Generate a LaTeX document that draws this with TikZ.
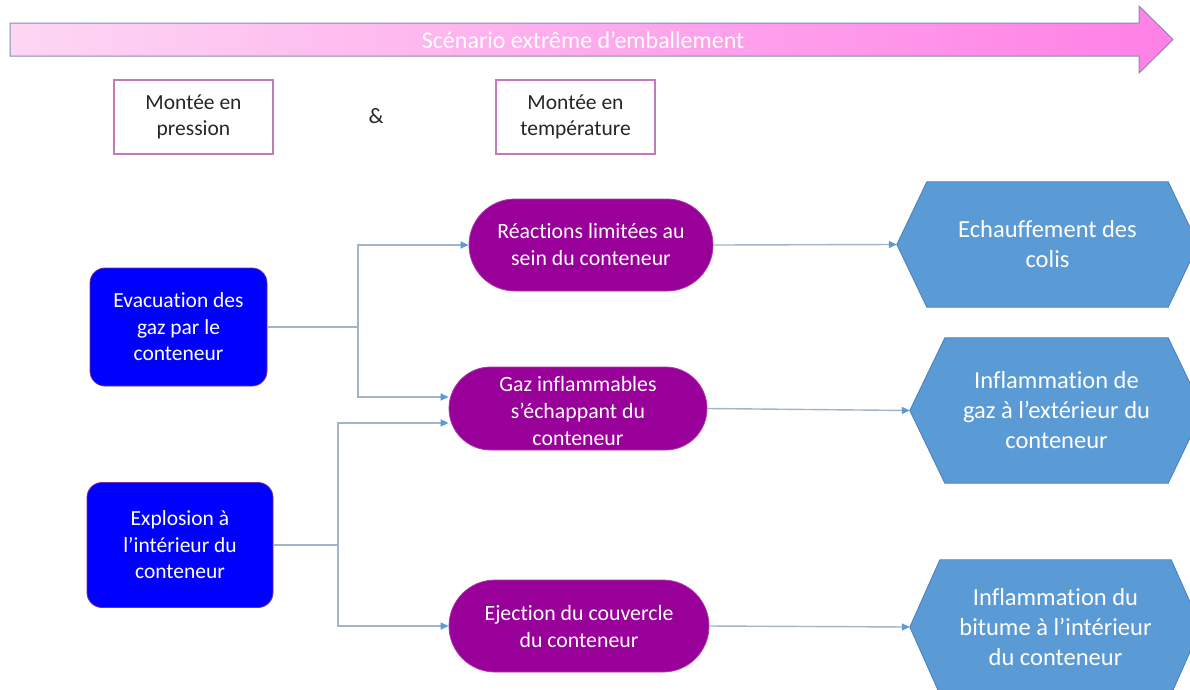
\documentclass[tikz,border=0pt]{standalone}
\usepackage{fontspec}
\setmainfont{Carlito}[Ligatures=NoCommon]
\usetikzlibrary{arrows.meta,shapes.misc,backgrounds,calc}
\definecolor{pinkL}{RGB}{253,214,243}
\definecolor{pinkR}{RGB}{255,128,230}
\definecolor{arrowedge}{RGB}{128,144,176}
\definecolor{boxpink}{RGB}{192,124,182}
\definecolor{textgray}{RGB}{38,38,38}
\definecolor{bluebox}{RGB}{0,0,255}
\definecolor{blueedge}{RGB}{112,48,160}
\definecolor{pillfill}{RGB}{153,0,153}
\definecolor{pilledge}{RGB}{170,60,170}
\definecolor{hexfillc}{RGB}{91,155,213}
\definecolor{hexedge}{RGB}{74,126,187}
\definecolor{connc}{RGB}{160,180,204}
\definecolor{tipc}{RGB}{91,155,213}
\newcommand\fsz[2]{\fontsize{#1}{#2}\selectfont}
\begin{document}
\begin{tikzpicture}[x=1pt,y=-1pt,
  topbox/.style={draw=boxpink, line width=1.3pt, minimum width=159pt, minimum height=74pt,
     align=center, text=textgray, font=\fsz{21.5}{26.5}, inner sep=0pt},
  bluenode/.style={fill=bluebox, draw=blueedge, line width=0.8pt, rounded corners=15pt,
     align=center, text=white, font=\fsz{21.5}{26.5}, inner sep=0pt},
  pillnode/.style={rounded rectangle, fill=pillfill, draw=pilledge, line width=0.8pt,
     align=center, text=white, font=\fsz{21.8}{27}, inner sep=0pt},
  hexnode/.style={align=center, text=white, font=\fsz{24.5}{30}, inner sep=0pt},
  hexfill/.style={fill=hexfillc, draw=hexedge, line width=0.8pt},
  conn/.style={draw=connc, line width=1.4pt},
  connarrow/.style={conn, -{Triangle[length=8pt,width=7pt,color=tipc]}}
]
\useasboundingbox (0,0) rectangle (1190,689);

% big arrow
\draw[left color=pinkL, right color=pinkR, draw=arrowedge, line width=1pt]
  (10,23) -- (1139,23) -- (1139,6) -- (1173,39.5) -- (1139,73) -- (1139,56) -- (10,56) -- cycle;
\node[text=white, font=\fsz{24}{28}] (title) at (583,40) {Scénario extrême d’emballement};

% top boxes
\node[topbox] (mp) at (193.5,117) {Montée en\\pression};
\node[text=textgray, font=\fsz{22}{26}] (amp) at (376,116) {\&};
\node[topbox] (mt) at (575.5,117) {Montée en\\température};

% blue boxes
\node[bluenode, minimum width=177pt, minimum height=118pt] (e1) at (178.5,327) {Evacuation des\\gaz par le\\conteneur};
\node[bluenode, minimum width=186pt, minimum height=125pt] (e2) at (180,545) {Explosion à\\l’intérieur du\\conteneur};

% pills
\node[pillnode, minimum width=244pt, minimum height=92pt] (p1) at (591,245) {Réactions limitées au\\sein du conteneur};
\node[pillnode, minimum width=258pt, minimum height=83pt] (p2) at (578,408.5) {\rule{0pt}{21pt}Gaz inflammables\\s’échappant du\\conteneur};
\node[pillnode, minimum width=260pt, minimum height=92pt] (p3) at (579,626) {Ejection du couvercle\\du conteneur};

% hexagons
\node[hexnode, minimum width=301pt, minimum height=125pt] (h1) at (1047.5,244.5) {Echauffement des\\colis};
\node[hexnode, minimum width=293pt, minimum height=145pt] (h2) at (1056.5,410.5) {Inflammation de\\gaz à l’extérieur du\\conteneur};
\node[hexnode, minimum width=291pt, minimum height=134pt] (h3) at (1055.5,627) {Inflammation du\\bitume à l’intérieur\\du conteneur};
\begin{pgfonlayer}{background}
\path[hexfill] (h1.west) -- ([xshift=30pt]h1.north west) -- ([xshift=-30pt]h1.north east) -- (h1.east)
  -- ([xshift=-30pt]h1.south east) -- ([xshift=30pt]h1.south west) -- cycle;
\path[hexfill] (h2.west) -- ([xshift=35pt]h2.north west) -- ([xshift=-35pt]h2.north east) -- (h2.east)
  -- ([xshift=-35pt]h2.south east) -- ([xshift=35pt]h2.south west) -- cycle;
\path[hexfill] (h3.west) -- ([xshift=30pt]h3.north west) -- ([xshift=-30pt]h3.north east) -- (h3.east)
  -- ([xshift=-30pt]h3.south east) -- ([xshift=30pt]h3.south west) -- cycle;
\end{pgfonlayer}

% connectors
\coordinate (j1) at (358,327);
\coordinate (j2) at (338,545);
\draw[conn] (e1.east) -- (j1);
\draw[connarrow] (j1) |- (p1.west);
\draw[connarrow] (j1) |- ([yshift=11.5pt]p2.west);
\draw[conn] (e2.east) -- (j2);
\draw[connarrow] (j2) |- ([yshift=-14.5pt]p2.west);
\draw[connarrow] (j2) |- (p3.west);
\draw[connarrow] (p1.east) -- (h1.west);
\draw[connarrow] (p2.east) -- (h2.west);
\draw[connarrow] (p3.east) -- (h3.west);
\end{tikzpicture}
\end{document}
